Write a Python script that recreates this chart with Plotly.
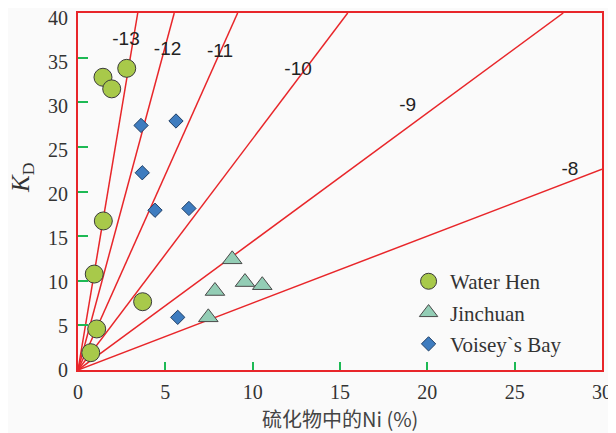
import plotly.graph_objects as go

# ---- data ----
water_x = [1.43, 1.93, 2.79, 1.45, 0.93, 3.70, 1.07, 0.73]
water_y = [32.8, 31.5, 33.8, 16.7, 10.75, 7.65, 4.6, 1.94]

jin_x = [8.83, 7.84, 9.56, 10.55, 7.46]
jin_y = [12.4, 8.85, 9.85, 9.5, 5.9]

vb_x = [3.61, 5.61, 3.68, 4.41, 6.35, 5.71]
vb_y = [27.4, 27.9, 22.1, 17.9, 18.1, 5.9]

line_labels = ["-13", "-12", "-11", "-10", "-9", "-8"]
line_end_x = [3.42, 5.51, 9.14, 15.44, 27.78, 30.0]
line_end_y = [40, 40, 40, 40, 40, 22.5]
label_x = [2.75, 5.13, 8.13, 12.6, 18.87, 28.16]
label_y = [36.95, 35.8, 35.6, 33.6, 29.5, 22.4]

x_ticks = [0, 5, 10, 15, 20, 25, 30]
y_ticks = [0, 5, 10, 15, 20, 25, 30, 35, 40]
x_inner_ticks = [5, 10, 15, 20, 25]
y_inner_ticks = [5, 10, 15, 20, 25, 30, 35]

RED = "#e8262a"
GREEN = "#1db954"
SERIF = "Liberation Serif, Times New Roman, serif"
SANS = "Liberation Sans, Arial, sans-serif"

fig = go.Figure()

for ex, ey in zip(line_end_x, line_end_y):
    fig.add_trace(go.Scatter(x=[0, ex], y=[0, ey], mode="lines",
                             line=dict(color=RED, width=1.5),
                             showlegend=False, hoverinfo="skip"))

fig.add_trace(go.Scatter(x=label_x, y=label_y, mode="text", text=line_labels,
                         textfont=dict(family=SANS, size=19, color="#222"),
                         showlegend=False, hoverinfo="skip"))

fig.add_trace(go.Scatter(x=water_x, y=water_y, mode="markers", name="Water Hen",
                         legendgroup="a",
                         marker=dict(symbol="circle", size=18, color="#a8c94a",
                                     line=dict(color="#3a3a3a", width=1))))
fig.add_trace(go.Scatter(x=jin_x, y=jin_y, mode="markers", name="Jinchuan",
                         legendgroup="b",
                         marker=dict(symbol="triangle-up", size=17, color="#93cdb5",
                                     line=dict(color="#4a4a4a", width=1))))
fig.add_trace(go.Scatter(x=vb_x, y=vb_y, mode="markers", name="Voisey`s Bay",
                         legendgroup="c",
                         marker=dict(symbol="diamond", size=11, color="#3e7cbf",
                                     line=dict(color="#1f3f66", width=1))))

# invisible traces to activate overlay axes (inner green ticks, y tick labels)
fig.add_trace(go.Scatter(x=[0], y=[0], xaxis="x2", yaxis="y2", mode="markers",
                         marker=dict(opacity=0), showlegend=False, hoverinfo="skip"))
fig.add_trace(go.Scatter(x=[0], y=[0], xaxis="x", yaxis="y3", mode="markers",
                         marker=dict(opacity=0), showlegend=False, hoverinfo="skip"))

fig.update_layout(
    width=608, height=425,
    margin=dict(l=70, r=14, t=5, b=63, autoexpand=False),
    paper_bgcolor="#fafafa",
    plot_bgcolor="#fafafa",
    xaxis=dict(range=[0, 30], tickvals=x_ticks, ticks="", showgrid=False,
               zeroline=False, showline=True, linecolor=RED, linewidth=1.5,
               mirror=True, ticklabelstandoff=3, automargin=False,
               ticklabeloverflow="allow",
               tickfont=dict(family=SERIF, size=20, color="#333")),
    yaxis=dict(range=[0, 40], tickvals=y_ticks, ticks="", showgrid=False,
               zeroline=False, showline=True, linecolor=RED, linewidth=1.5,
               mirror=True, showticklabels=False, automargin=False),
    yaxis3=dict(range=[0, 40.57], overlaying="y", anchor="x", side="left",
                tickvals=y_ticks, ticks="", showgrid=False, zeroline=False,
                showline=False, ticklabelstandoff=9, automargin=False,
                ticklabeloverflow="allow",
                tickfont=dict(family=SERIF, size=20, color="#333")),
    xaxis2=dict(range=[0, 30], overlaying="x", anchor="y", side="bottom",
                tickvals=x_inner_ticks, ticks="inside", ticklen=8, tickwidth=2,
                tickcolor=GREEN, showticklabels=False, showgrid=False,
                zeroline=False, showline=False, automargin=False),
    yaxis2=dict(range=[0, 40], overlaying="y", anchor="x", side="left",
                tickvals=y_inner_ticks, ticks="inside", ticklen=10, tickwidth=2,
                tickcolor=GREEN, showticklabels=False, showgrid=False,
                zeroline=False, showline=False, automargin=False),
    legend=dict(x=0.628, y=0.305, xanchor="left", yanchor="top",
                bgcolor="rgba(0,0,0,0)", traceorder="grouped",
                tracegroupgap=1, itemwidth=33,
                font=dict(family=SERIF, size=21, color="#333")),
    annotations=[
        dict(text="<i>K</i><sub>D</sub>", xref="paper", yref="paper",
             x=-0.105, y=0.538, xanchor="center", yanchor="middle",
             textangle=-90, showarrow=False,
             font=dict(family=SERIF, size=25, color="#333")),
        dict(text="硫化物中的Ni (%)", xref="paper", yref="paper",
             x=0.5, y=-0.1345, xanchor="center", yanchor="middle", showarrow=False,
             font=dict(family="Noto Sans CJK SC, sans-serif", size=20, color="#444")),
    ],
)

fig.write_html("out.html")
